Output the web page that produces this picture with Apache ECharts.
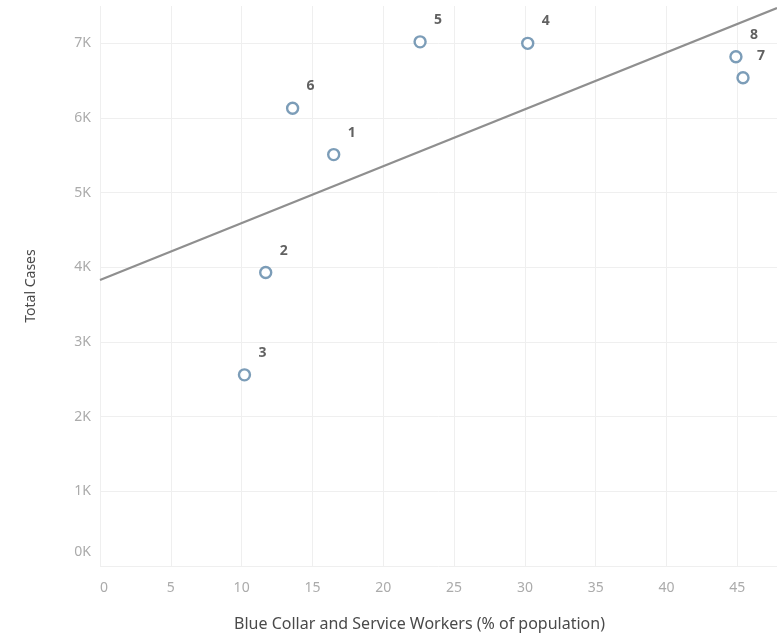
<!DOCTYPE html>
<html>
<head>
<meta charset="utf-8">
<script src="https://cdn.jsdelivr.net/npm/echarts@6/dist/echarts.min.js"></script>
<style>
  html, body { margin: 0; padding: 0; background: #ffffff; }
  #chart { width: 777px; height: 634px; }
</style>
</head>
<body>
<div id="chart"></div>
<script>
// ---- Data ----
const pointLabels = ["1", "2", "3", "4", "5", "6", "7", "8"];
const blueCollarPct = [16.5, 11.7, 10.2, 30.2, 22.6, 13.6, 45.4, 44.9];
const totalCases = [5510, 3930, 2560, 7000, 7020, 6130, 6540, 6820];
const xTickValues = [0, 5, 10, 15, 20, 25, 30, 35, 40, 45];
const yTickValues = [0, 1000, 2000, 3000, 4000, 5000, 6000, 7000];

const xAxisMin = 0, xAxisMax = 47.8;
const yAxisMin = 0, yAxisMax = 7500;

// ---- Linear trend line (least squares) computed from the data ----
const n = blueCollarPct.length;
const mx = blueCollarPct.reduce((a, b) => a + b, 0) / n;
const my = totalCases.reduce((a, b) => a + b, 0) / n;
let sxy = 0, sxx = 0;
for (let i = 0; i < n; i++) {
  sxy += (blueCollarPct[i] - mx) * (totalCases[i] - my);
  sxx += (blueCollarPct[i] - mx) * (blueCollarPct[i] - mx);
}
const slope = sxy / sxx;
const intercept = my - slope * mx;
const trendData = [
  [xAxisMin, intercept + slope * xAxisMin],
  [xAxisMax, intercept + slope * xAxisMax]
];

const scatterData = blueCollarPct.map((x, i) => ({
  value: [x, totalCases[i]],
  name: pointLabels[i]
}));

const fontFamily = '"Noto Sans", "Open Sans", sans-serif';
const tickColor = '#ababab';
const chart = echarts.init(document.getElementById('chart'), null, { renderer: 'canvas' });

chart.setOption({
  animation: false,
  backgroundColor: '#ffffff',
  grid: { left: 100, right: 0, top: 6, bottom: 68, containLabel: false, outerBoundsMode: 'none' },
  xAxis: {
    type: 'value',
    min: xAxisMin,
    max: xAxisMax,
    interval: 5,
    name: 'Blue Collar and Service Workers (% of population)',
    nameLocation: 'middle',
    nameGap: 50,
    nameTextStyle: { color: '#4a4a4a', fontSize: 16, fontFamily: fontFamily, padding: [0, 38, 0, 0] },
    axisLine: { show: false },
    axisTick: { show: false },
    axisLabel: {
      color: tickColor,
      fontSize: 14,
      fontFamily: fontFamily,
      margin: 15,
      showMaxLabel: false,
      formatter: v => {
        if (!xTickValues.includes(v)) return '';
        return v === 0 ? '{z|0}' : String(v);
      },
      rich: { z: { color: tickColor, fontSize: 14, fontFamily: fontFamily, padding: [0, 0, 0, 8] } }
    },
    splitLine: { show: true, showMaxLine: false, lineStyle: { color: '#efefef', width: 1 } }
  },
  yAxis: {
    type: 'value',
    min: yAxisMin,
    max: yAxisMax,
    interval: 1000,
    name: 'Total Cases',
    nameLocation: 'middle',
    nameGap: 62,
    nameRotate: 90,
    nameTextStyle: { color: '#4a4a4a', fontSize: 14, fontFamily: fontFamily },
    axisLine: { show: false },
    axisTick: { show: false },
    axisLabel: {
      color: tickColor,
      fontSize: 14,
      fontFamily: fontFamily,
      margin: 9,
      showMaxLabel: false,
      formatter: v => {
        if (!yTickValues.includes(v)) return '';
        const t = (v / 1000) + 'K';
        return v === 0 ? '{z|' + t + '}' : t;
      },
      rich: { z: { color: tickColor, fontSize: 14, fontFamily: fontFamily, padding: [0, 0, 28, 0] } }
    },
    splitLine: { show: true, showMaxLine: false, lineStyle: { color: '#efefef', width: 1 } }
  },
  series: [
    {
      type: 'line',
      data: trendData,
      symbol: 'none',
      silent: true,
      lineStyle: { color: '#8f8f8f', width: 2.2 },
      z: 2
    },
    {
      type: 'scatter',
      data: scatterData,
      symbol: 'circle',
      symbolSize: 11,
      itemStyle: { color: '#ffffff', borderColor: '#5b84a6', borderWidth: 2.4 },
      label: {
        show: true,
        position: 'inside',
        offset: [18, -22],
        formatter: p => p.name,
        color: '#3a3a3a',
        fontSize: 14,
        fontWeight: 'bold',
        fontFamily: fontFamily
      },
      z: 3
    }
  ]
});
</script>
</body>
</html>
